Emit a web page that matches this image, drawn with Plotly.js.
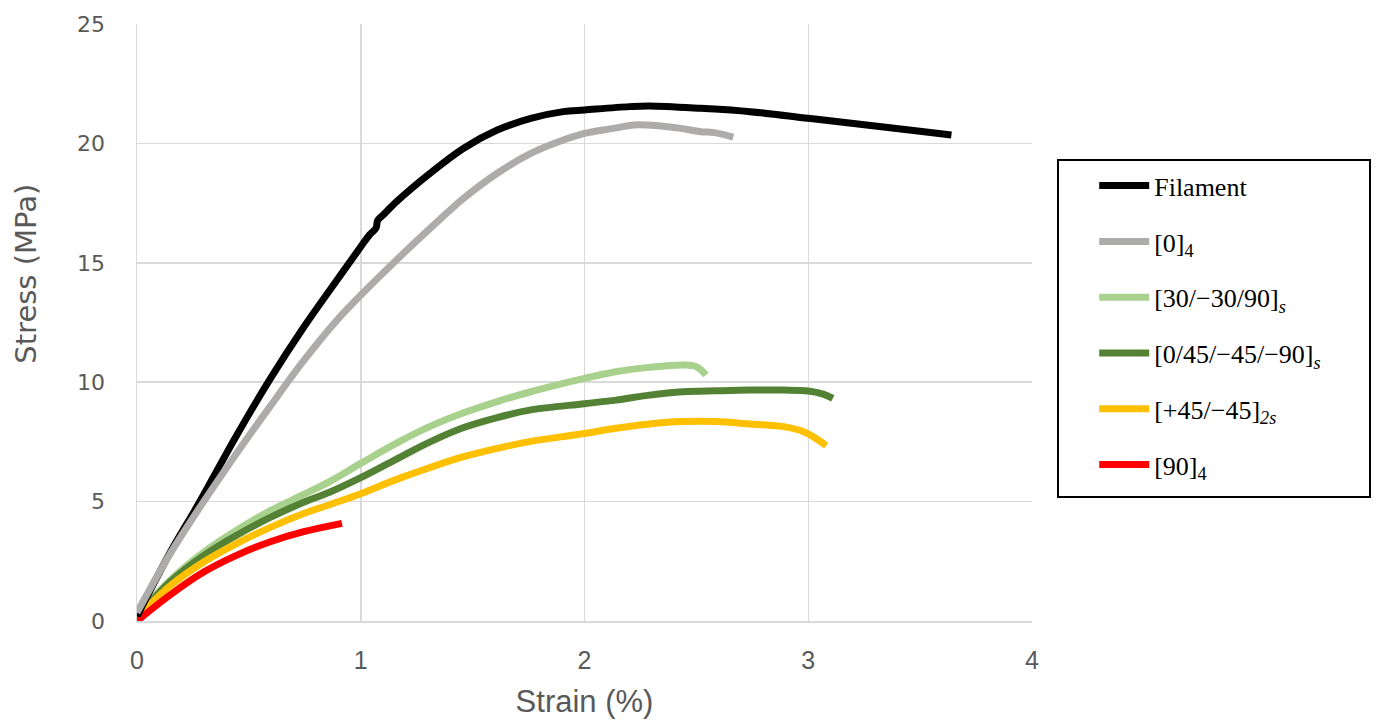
<!DOCTYPE html>
<html>
<head>
<meta charset="utf-8">
<script src="https://cdn.plot.ly/plotly-3.0.1.min.js"></script>
<style>html,body{margin:0;padding:0;background:#fff;}#chart{width:1379px;height:722px;}</style>
</head>
<body>
<div id="chart"></div>
<script>
// Stress-strain data (strain in %, stress in MPa)
const filamentStrain = [0, 0.15, 0.268, 0.447, 0.596, 0.745, 0.894, 1.0, 1.04, 1.068, 1.076, 1.1, 1.16, 1.31, 1.46, 1.61, 1.76, 1.905, 2.0, 2.2, 2.29, 2.52, 2.74, 3.0, 3.26, 3.48, 3.64];
const filamentStress = [0.2, 2.9, 4.79, 7.8, 10.15, 12.3, 14.28, 15.67, 16.18, 16.45, 16.78, 17.0, 17.56, 18.75, 19.8, 20.56, 21.05, 21.33, 21.4, 21.54, 21.57, 21.47, 21.33, 21.05, 20.77, 20.53, 20.35];

const zero4Strain = [0, 0.149, 0.283, 0.447, 0.596, 0.745, 0.894, 1.027, 1.16, 1.31, 1.46, 1.61, 1.76, 1.905, 2.0, 2.13, 2.22, 2.28, 2.37, 2.43, 2.52, 2.58, 2.665];
const zero4Stress = [0.35, 2.83, 4.79, 7.05, 9.0, 10.9, 12.6, 13.9, 15.12, 16.44, 17.7, 18.75, 19.58, 20.14, 20.42, 20.63, 20.77, 20.77, 20.7, 20.63, 20.49, 20.45, 20.26];

const lay30Strain = [0, 0.149, 0.298, 0.447, 0.596, 0.745, 0.863, 1.0, 1.16, 1.31, 1.46, 1.61, 1.76, 1.905, 2.0, 2.14, 2.29, 2.44, 2.50, 2.543];
const lay30Stress = [0.2, 1.72, 2.88, 3.81, 4.62, 5.3, 5.85, 6.6, 7.45, 8.15, 8.72, 9.19, 9.6, 9.95, 10.16, 10.44, 10.62, 10.72, 10.65, 10.3];

const lay045Strain = [0, 0.149, 0.298, 0.447, 0.596, 0.745, 0.863, 1.0, 1.16, 1.31, 1.46, 1.61, 1.76, 2.0, 2.14, 2.29, 2.44, 2.59, 2.74, 2.89, 3.0, 3.07, 3.11];
const lay045Stress = [0.15, 1.65, 2.74, 3.6, 4.34, 4.97, 5.4, 6.0, 6.78, 7.5, 8.1, 8.52, 8.84, 9.1, 9.25, 9.46, 9.6, 9.64, 9.67, 9.67, 9.63, 9.49, 9.32];

const lay45Strain = [0, 0.149, 0.298, 0.447, 0.596, 0.745, 0.863, 1.0, 1.16, 1.31, 1.46, 1.61, 1.76, 2.0, 2.14, 2.29, 2.44, 2.59, 2.74, 2.89, 2.98, 3.04, 3.08];
const lay45Stress = [0.15, 1.48, 2.47, 3.25, 3.92, 4.5, 4.88, 5.33, 5.93, 6.43, 6.88, 7.23, 7.52, 7.85, 8.07, 8.25, 8.35, 8.35, 8.25, 8.14, 7.93, 7.61, 7.34];

const ninety4Strain = [0, 0.149, 0.298, 0.447, 0.596, 0.745, 0.916];
const ninety4Stress = [0, 1.1, 2.05, 2.76, 3.32, 3.74, 4.09];

const seriesNames = [
  'Filament',
  '[0]<sub>4</sub>',
  '[30/−30/90]<sub><i>s</i></sub>',
  '[0/45/−45/−90]<sub><i>s</i></sub>',
  '[+45/−45]<sub><i>2s</i></sub>',
  '[90]<sub>4</sub>'
];
const seriesColors = ['#000000', '#AEABAB', '#A9D18E', '#548235', '#FFC000', '#FF0000'];

const xTickVals = [0, 1, 2, 3, 4];
const yTickVals = [0, 5, 10, 15, 20, 25];

function tr(x, y, i) {
  return {
    x: x, y: y, type: 'scatter', mode: 'lines',
    name: seriesNames[i], legendgroup: 'g' + i, legendrank: i + 1,
    line: {color: seriesColors[i], width: 7, shape: 'spline', smoothing: 1},
    hoverinfo: 'skip'
  };
}

// draw order: lower curves first, grey on top of black as in the reference
const data = [
  tr(lay30Strain, lay30Stress, 2),
  tr(lay045Strain, lay045Stress, 3),
  tr(lay45Strain, lay45Stress, 4),
  tr(ninety4Strain, ninety4Stress, 5),
  tr(filamentStrain, filamentStress, 0),
  tr(zero4Strain, zero4Stress, 1)
];

const gray = '#595959';

const layout = {
  width: 1379, height: 722,
  margin: {l: 137, r: 347, t: 24, b: 101},
  paper_bgcolor: '#ffffff', plot_bgcolor: '#ffffff',
  showlegend: true,
  xaxis: {
    range: [0, 4], tickvals: xTickVals, ticktext: xTickVals.map(String),
    showgrid: true, gridcolor: '#D9D9D9', gridwidth: 1.5,
    zeroline: false, showline: true, linecolor: '#D9D9D9', linewidth: 1.5,
    ticks: '', ticklabelstandoff: 16,
    tickfont: {family: 'Liberation Sans Narrow, Liberation Sans, sans-serif', size: 25, color: gray},
    title: {text: 'Strain (%)', font: {family: 'Liberation Sans Narrow, Liberation Sans, sans-serif', size: 31, color: gray}, standoff: 18}
  },
  yaxis: {
    range: [0, 25], tickvals: yTickVals, ticktext: yTickVals.map(String),
    showgrid: true, gridcolor: '#D9D9D9', gridwidth: 1.5,
    zeroline: false, showline: true, linecolor: '#D9D9D9', linewidth: 1.5,
    ticks: '', ticklabelstandoff: 26,
    tickfont: {family: 'DejaVu Sans, sans-serif', size: 22, color: gray}
  },
  annotations: [{
    text: 'Stress (MPa)', textangle: -90, xref: 'paper', yref: 'paper',
    x: -0.125, y: 0.582, xanchor: 'center', yanchor: 'middle', showarrow: false,
    font: {family: 'DejaVu Sans, sans-serif', size: 29, color: gray}
  }],
  shapes: [{
    type: 'rect', xref: 'paper', yref: 'paper',
    x0: 1.02905, x1: 1.37765, y0: 0.2077, y1: 0.7722,
    line: {color: '#000000', width: 2}, fillcolor: 'rgba(0,0,0,0)'
  }],
  legend: {
    x: 1.0695, xanchor: 'left', y: 0.7685, yanchor: 'top',
    bgcolor: 'rgba(0,0,0,0)', borderwidth: 0,
    traceorder: 'grouped', tracegroupgap: 19, itemwidth: 50,
    font: {family: 'Liberation Serif, DejaVu Serif, serif', size: 26, color: '#000000'}
  }
};

Plotly.newPlot('chart', data, layout, {displayModeBar: false, staticPlot: true});
</script>
</body>
</html>
